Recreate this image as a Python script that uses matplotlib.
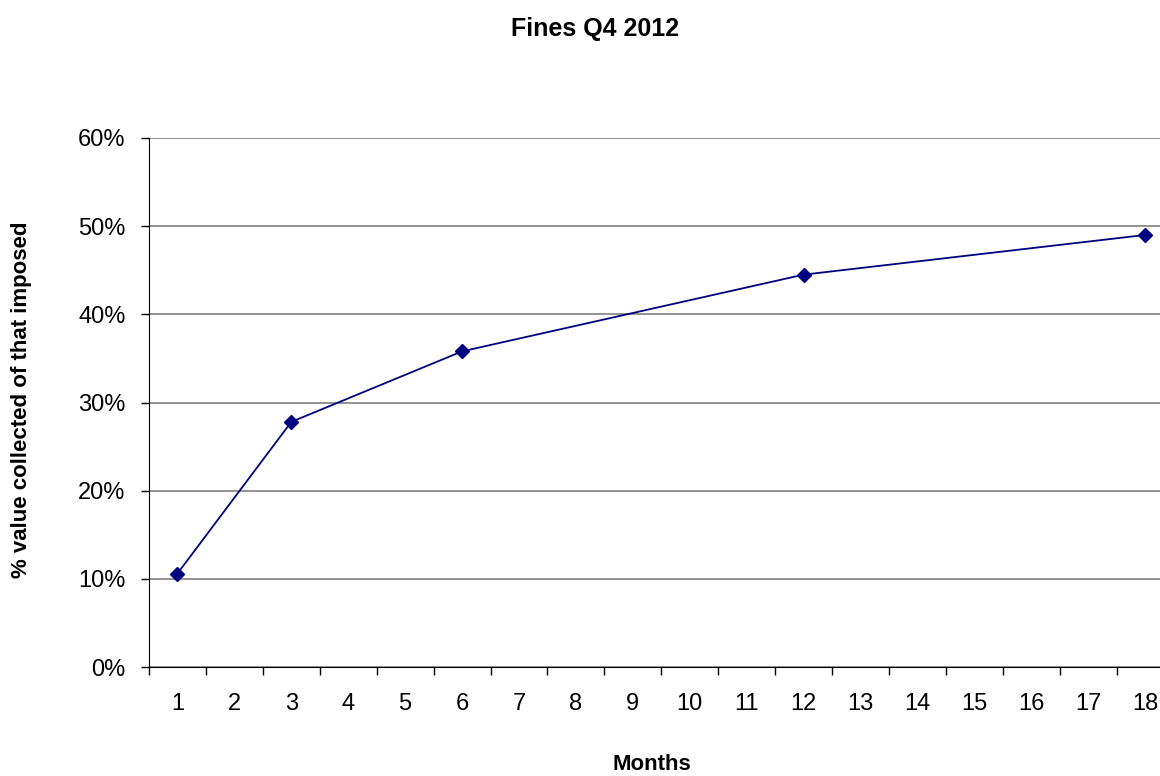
import matplotlib.pyplot as plt
import numpy as np
from matplotlib.ticker import FuncFormatter

months = [1, 3, 6, 12, 18]
collected = [10.6, 27.8, 35.8, 44.5, 49.0]
categories = list(range(1, 19))

plt.rcParams['font.family'] = ['Liberation Sans', 'DejaVu Sans']

fig = plt.figure(figsize=(11.6, 7.76), dpi=100)
ax = fig.add_axes([149/1160, 1-667/776, 1024.5/1160, 529/776])

xpos = [categories.index(m) for m in months]
ax.plot(xpos, collected, color='#000080', lw=1.3, marker='D', ms=7, mfc='#000080', mec='#000080')

ax.set_xlim(-0.5, len(categories) - 0.5)
ax.set_ylim(0, 60)
ax.set_yticks(np.arange(0, 61, 10))
ax.yaxis.set_major_formatter(FuncFormatter(lambda v, p: '%d%%' % v))
ax.yaxis.grid(True, color='#808080', lw=1.2)
ax.set_axisbelow(True)

ax.set_xticks(np.arange(-0.5, len(categories), 1.0))
ax.set_xticklabels([])
ax.set_xticks(np.arange(len(categories)), minor=True)
ax.set_xticklabels([str(c) for c in categories], minor=True)
ax.tick_params(axis='x', which='major', direction='out', length=6, width=1, color='black')
ax.tick_params(axis='x', which='minor', length=0, labelsize=17, pad=19)
ax.tick_params(axis='y', direction='out', length=6, width=1, labelsize=17, pad=11)

ax.spines['top'].set_visible(False)
ax.spines['right'].set_visible(False)
ax.spines['left'].set_color('black')
ax.spines['bottom'].set_color('black')

fig.text(595/1160, 1-36/776, 'Fines Q4 2012', ha='center', va='baseline', fontsize=18, fontweight='bold')
fig.text(652/1160, 1-775/776, 'Months', ha='center', va='bottom', fontsize=16, fontweight='bold')
fig.text(22/1160, 1-400/776, '% value collected of that imposed', ha='center', va='center',
         rotation=90, fontsize=16, fontweight='bold')

fig.savefig('out.png', dpi=100)
